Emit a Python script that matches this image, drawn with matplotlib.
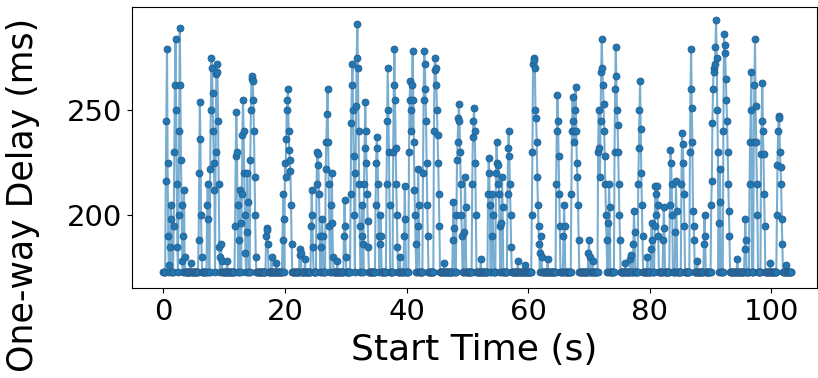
import numpy as np
import matplotlib.pyplot as plt

# one-way delay trace, sampled every 100 ms
dt = 0.1
duration = 103.3
floor_delay = 173  # ms, delay when the queue is empty

# queueing bursts: (start time in s, delay of each consecutive sample in ms)
burst_starts = [
    0.4, 1.1, 1.7, 2.5, 3.3, 5.8, 7.2, 7.7, 8.6, 9.4,
    11.8, 12.5, 12.9, 13.7, 14.3, 16.9, 19.6, 20.0, 22.4, 24.3,
    25.2, 26.0, 26.7, 27.6, 29.7, 30.8, 31.6, 32.6, 33.0, 34.9,
    35.6, 36.7, 37.8, 39.6, 40.4, 41.8, 42.7, 44.5, 47.6, 48.2,
    49.5, 50.8, 53.4, 54.0, 54.7, 55.6, 56.6, 60.6, 62.0, 64.6,
    65.8, 67.1, 69.9, 71.5, 73.2, 74.2, 76.8, 77.3, 78.1, 80.2,
    80.8, 82.2, 83.3, 84.2, 85.2, 86.6, 88.9, 90.1, 91.4, 92.1,
    95.6, 96.4, 97.1, 98.3, 100.9,
]
burst_delays = [
    [216, 245, 279, 225, 190, 176],
    [185, 205, 198],
    [195, 230, 262, 284, 250, 215, 185],
    [200, 240, 289, 262, 226, 205, 178],
    [190, 212, 180],
    [188, 220, 254, 236, 200, 180],
    [205, 215, 198],
    [222, 250, 275, 270, 258, 240, 225, 212],
    [230, 267, 272, 268, 245, 215, 185],
    [180, 186, 178],
    [195, 228, 249, 230, 205],
    [188, 212, 196],
    [210, 238, 255, 240, 220, 200, 182],
    [192, 220, 206],
    [226, 250, 265, 266, 264, 255, 240, 218, 200, 180],
    [190, 194, 193, 186],
    [188, 210, 198],
    [225, 218, 236, 250, 255, 260, 240, 231, 226, 221, 205, 186],
    [181, 184, 182],
    [195, 212, 200, 185],
    [215, 230, 229, 224, 210, 190],
    [185, 198, 190],
    [222, 235, 248, 260, 235, 215, 195],
    [205, 220, 196, 180],
    [190, 207, 195, 180],
    [210, 244, 262, 272, 250, 228, 200],
    [220, 252, 275, 291, 270, 240, 215, 195],
    [190, 205, 186],
    [215, 232, 254, 240, 225, 210, 197, 185],
    [205, 225, 237, 232, 215, 190],
    [186, 200, 190],
    [215, 245, 270, 250, 230, 205],
    [230, 262, 279, 255, 232, 215, 200, 185],
    [190, 214, 198],
    [230, 255, 264, 250, 240, 262, 278, 255, 235, 212, 200, 186],
    [195, 222, 205],
    [220, 255, 278, 272, 260, 245, 225, 205, 190],
    [240, 269, 275, 270, 262, 250, 238, 225, 210, 195],
    [188, 206, 194],
    [200, 226, 235, 246, 253, 245, 230, 215, 200, 190],
    [192, 218, 204],
    [215, 237, 245, 251, 240, 225, 200],
    [210, 227, 220, 205],
    [190, 210, 200],
    [220, 235, 225, 215, 224, 210, 195],
    [196, 218, 204],
    [210, 232, 240, 228, 215, 200, 185],
    [200, 230, 272, 275, 274, 270, 250, 246, 235, 218, 205, 195, 186],
    [182, 190, 180],
    [215, 240, 257, 245, 228, 210, 195],
    [190, 205, 195],
    [210, 240, 256, 245, 240, 235, 250, 261, 240, 225, 218, 205, 188],
    [182, 188, 180],
    [230, 250, 232, 218, 245, 268, 284, 270, 262, 253, 240, 228, 215, 200, 188],
    [196, 215, 204],
    [230, 260, 280, 266, 250, 243, 230, 215, 200, 188],
    [179, 181],
    [186, 202, 192],
    [215, 232, 250, 264, 241, 220, 205, 190],
    [184, 196, 188],
    [195, 214, 210, 200, 214, 205, 190],
    [188, 204, 194],
    [205, 231, 225, 215, 200],
    [192, 216, 202],
    [215, 239, 234, 225, 210, 195],
    [230, 260, 279, 251, 235, 202, 195, 188],
    [186, 200, 190],
    [205, 216, 244, 260, 270, 268, 272, 280, 293, 275, 250, 230],
    [196, 222, 206],
    [240, 286, 281, 277, 265, 255, 245, 230, 215, 202, 190],
    [184, 198, 188],
    [215, 235, 250, 268],
    [235, 262, 284, 252, 235, 215, 200],
    [229, 245, 263, 240, 229, 210, 195],
    [200, 224, 240, 247, 246, 230, 223, 215, 198, 186],
]

# short bumps just above the floor, (time in s, delay in ms)
bump_times = [4.5, 10.5, 17.8, 18.6, 23.3, 28.6, 38.9, 46.2, 52.2, 58.3,
              59.5, 63.2, 70.6, 76.0, 79.6, 87.8, 94.4, 99.8, 102.4]
bump_delays = [177, 178, 180, 177, 179, 178, 180, 177, 179, 178,
               176, 179, 178, 177, 180, 178, 179, 177, 176]

t = np.round(np.arange(0, duration + dt / 2, dt), 1)
delay = np.full(t.shape, float(floor_delay))
for start, vals in zip(burst_starts, burst_delays):
    i0 = int(round(start / dt))
    delay[i0:i0 + len(vals)] = vals
for bt, bv in zip(bump_times, bump_delays):
    delay[int(round(bt / dt))] = bv

fig = plt.figure(figsize=(8.18, 3.78), dpi=100)
ax = fig.add_axes([0.1614, 0.2373, 0.8374, 0.745])

ax.plot(t, delay, color='tab:blue', lw=1.5, alpha=0.6)
ax.plot(t, delay, ls='none', marker='o', ms=5, color='tab:blue',
        mec='#2b5f8e', mew=0.6)

ax.set_xlim(-5.15, 107.5)
ax.set_ylim(165.1, 299.2)
ax.set_xticks([0, 20, 40, 60, 80, 100])
ax.set_yticks([200, 250])
ax.tick_params(labelsize=21)
ax.set_xlabel('Start Time (s)', fontsize=26, labelpad=5)
ax.set_ylabel('One-way Delay (ms)', fontsize=25)
ax.yaxis.set_label_coords(-0.135, 0.33)

fig.savefig('out.png', dpi=100)
